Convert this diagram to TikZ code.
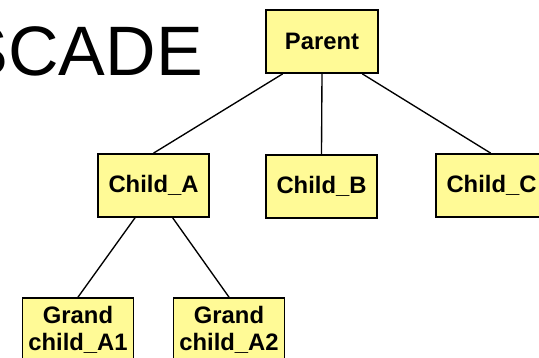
\documentclass[tikz,border=0pt]{standalone}
\usepackage{fontspec}
\setmainfont{Liberation Sans}
\usetikzlibrary{calc}
\definecolor{boxfill}{RGB}{255,250,150}
\begin{document}
\begin{tikzpicture}[x=1pt,y=-1pt,
  treebox/.style={draw=black,line width=1.7pt,fill=boxfill,
    minimum width=111pt,minimum height=63pt,inner sep=0pt,
    font=\fontsize{23.8}{26.7}\selectfont\bfseries,align=center},
  link/.style={draw=black,line width=1.35pt}]
  \useasboundingbox (0,0) rectangle (539,358);
  \clip (0,0) rectangle (539,358);
  % title fragment, running off the left edge
  \node[anchor=base east,inner sep=0pt,font=\fontsize{70}{80}\selectfont] (title) at (203,76) {SCADE};
  % tree boxes
  \node[treebox,minimum width=112pt] (parent) at (322,41.5) {Parent};
  \node[treebox] (childA) at (153.5,185.5) {Child\_A};
  \node[treebox] (childB) at (321.5,186.5) {Child\_B};
  \node[treebox] (childC) at (491.5,185.5) {Child\_C};
  \node[treebox] (gA1) at (78,329.5) {Grand\\child\_A1};
  \node[treebox] (gA2) at (229,329.5) {Grand\\child\_A2};
  % connectors
  \draw[link] ($(parent.south)+(-39.3,0)$) -- (childA.north);
  \draw[link] (parent.south) -- (childB.north);
  \draw[link] ($(parent.south)+(40.3,0)$) -- ($(childC.north)+(-0.8,0)$);
  \draw[link] ($(childA.south)+(-18.5,0)$) -- (gA1.north);
  \draw[link] ($(childA.south)+(19.2,0)$) -- (gA2.north);
\end{tikzpicture}
\end{document}
